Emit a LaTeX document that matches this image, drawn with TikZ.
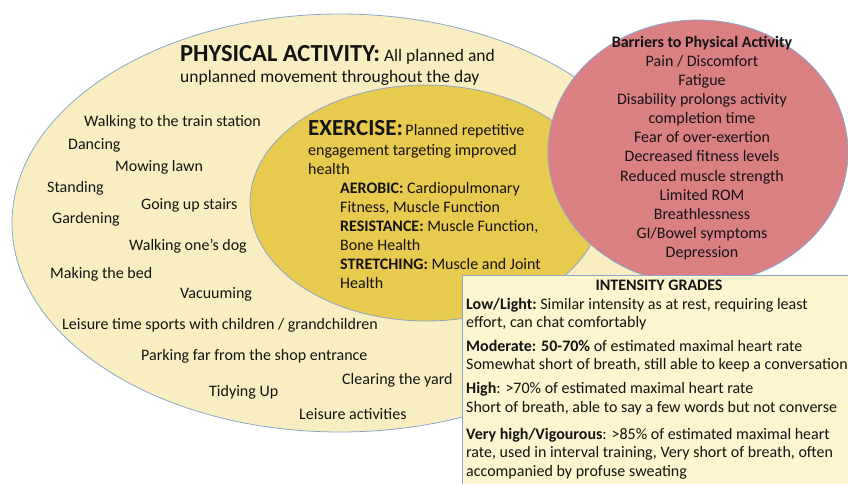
\documentclass[tikz,border=0pt]{standalone}
\usepackage{fontspec}
\setmainfont{Carlito}
\definecolor{paleY}{RGB}{249,238,193}
\definecolor{goldY}{RGB}{232,202,78}
\definecolor{redE}{RGB}{218,128,131}
\definecolor{boxY}{RGB}{252,245,207}
\definecolor{edgeB}{RGB}{140,167,204}
\definecolor{txt}{RGB}{20,20,20}
\begin{document}
\begin{tikzpicture}[x=1pt,y=-1pt,
  lbl/.style={anchor=base west, inner sep=0pt, text=txt, font=\fontsize{16}{19}\selectfont},
  clbl/.style={anchor=base, inner sep=0pt, text=txt, font=\fontsize{16}{19}\selectfont},
  shapeedge/.style={draw=edgeB, line width=0.8pt}]
\useasboundingbox (0,0) rectangle (848,483);
\clip (0,0) rectangle (848,483);
% shapes
\filldraw[shapeedge, fill=paleY] (340,223) ellipse [x radius=328, y radius=209];
\filldraw[shapeedge, fill=goldY] (426,203) ellipse [x radius=176, y radius=118];
\filldraw[shapeedge, fill=redE] (698,152) ellipse [x radius=150, y radius=132];
\filldraw[shapeedge, fill=boxY] (462,275) rectangle (880,500);
% physical activity heading
\node[lbl] (pa1) at (180,61) {\fontsize{24.5}{24.5}\selectfont\bfseries PHYSICAL ACTIVITY:\fontsize{17.5}{20}\selectfont\mdseries\ All planned and};
\node[lbl, font=\fontsize{17.5}{20}\selectfont] (pa2) at (180,82) {unplanned movement throughout the day};
% activities
\node[lbl] (a1) at (84,126) {Walking to the train station};
\node[lbl] (a2) at (68,149) {Dancing};
\node[lbl] (a3) at (115,171) {Mowing lawn};
\node[lbl] (a4) at (47,192) {Standing};
\node[lbl] (a5) at (141,209) {Going up stairs};
\node[lbl] (a6) at (52,223) {Gardening};
\node[lbl] (a7) at (129,250) {Walking one’s dog};
\node[lbl] (a8) at (50,278) {Making the bed};
\node[lbl] (a9) at (180,298) {Vacuuming};
\node[lbl] (a10) at (62,329) {Leisure time sports with children / grandchildren};
\node[lbl] (a11) at (141,360) {Parking far from the shop entrance};
\node[lbl] (a12) at (342,384) {Clearing the yard};
\node[lbl] (a13) at (209,396) {Tidying Up};
\node[lbl] (a14) at (299,419) {Leisure activities};
% exercise
\node[lbl] (ex1) at (308,135) {\fontsize{23}{23}\selectfont\bfseries EXERCISE:\fontsize{16}{19}\selectfont\mdseries\,Planned repetitive};
\node[lbl] (ex2) at (308,155) {engagement targeting improved};
\node[lbl] (ex3) at (308,174) {health};
\node[lbl] (ex4) at (340,193) {\bfseries AEROBIC:\mdseries\ Cardiopulmonary};
\node[lbl] (ex5) at (340,212) {Fitness, Muscle Function};
\node[lbl] (ex6) at (340,231) {\bfseries RESISTANCE:\mdseries\ Muscle Function,};
\node[lbl] (ex7) at (340,250) {Bone Health};
\node[lbl] (ex8) at (340,269) {\bfseries STRETCHING:\mdseries\ Muscle and Joint};
\node[lbl] (ex9) at (340,288) {Health};
% barriers
\node[clbl, font=\fontsize{16}{19}\selectfont\bfseries] (b1) at (702,47.3) {Barriers to Physical Activity};
\node[clbl] (b2) at (702,66.4) {Pain / Discomfort};
\node[clbl] (b3) at (702,85.5) {Fatigue};
\node[clbl] (b4) at (702,104.6) {Disability prolongs activity};
\node[clbl] (b5) at (702,123.7) {completion time};
\node[clbl] (b6) at (702,142.8) {Fear of over-exertion};
\node[clbl] (b7) at (702,161.9) {Decreased fitness levels};
\node[clbl] (b8) at (702,181.0) {Reduced muscle strength};
\node[clbl] (b9) at (702,200.1) {Limited ROM};
\node[clbl] (b10) at (702,219.2) {Breathlessness};
\node[clbl] (b11) at (702,238.3) {GI/Bowel symptoms};
\node[clbl] (b12) at (702,257.4) {Depression};
% intensity grades
\node[clbl, font=\fontsize{16}{19}\selectfont\bfseries] (g0) at (659,290.5) {INTENSITY GRADES};
\node[lbl] (g1) at (466,309) {\bfseries Low/Light:\mdseries\ Similar intensity as at rest, requiring least};
\node[lbl] (g2) at (466,327.5) {effort, can chat comfortably};
\node[lbl] (g3) at (466,351) {\bfseries Moderate: 50-70\%\mdseries\ of estimated maximal heart rate};
\node[lbl] (g4) at (466,369.5) {Somewhat short of breath, still able to keep a conversation};
\node[lbl] (g5) at (466,393.5) {\bfseries High\mdseries: >70\% of estimated maximal heart rate};
\node[lbl] (g6) at (466,412.5) {Short of breath, able to say a few words but not converse};
\node[lbl] (g7) at (466,439) {\bfseries Very high/Vigourous\mdseries: >85\% of estimated maximal heart};
\node[lbl] (g8) at (466,457.5) {rate, used in interval training, Very short of breath, often};
\node[lbl] (g9) at (466,476) {accompanied by profuse sweating};
\end{tikzpicture}
\end{document}
